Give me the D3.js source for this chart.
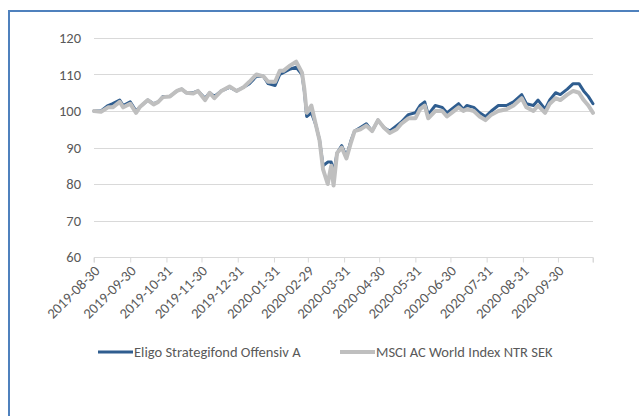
<!DOCTYPE html>
<html>
<head>
<meta charset="utf-8">
<script src="https://cdn.jsdelivr.net/npm/d3@7"></script>
<style>
  body { margin:0; background:#fff; }
  text { font-family: Carlito, Calibri, "Liberation Sans", sans-serif; }
</style>
</head>
<body>
<div class="svg-container"></div>
<script>
//chart data
const dates = ['2019-08-30','2019-09-05','2019-09-11','2019-09-15','2019-09-21','2019-09-24','2019-09-30',
  '2019-10-05','2019-10-08','2019-10-15','2019-10-20','2019-10-24','2019-10-28','2019-11-03','2019-11-09',
  '2019-11-13','2019-11-17','2019-11-23','2019-11-27','2019-12-03','2019-12-07','2019-12-11','2019-12-17',
  '2019-12-24','2019-12-30','2020-01-05','2020-01-10','2020-01-16','2020-01-22','2020-01-26','2020-02-01',
  '2020-02-05','2020-02-08','2020-02-14','2020-02-19','2020-02-24','2020-02-26','2020-02-28','2020-03-03',
  '2020-03-07','2020-03-10','2020-03-13','2020-03-17','2020-03-20','2020-03-22','2020-03-25','2020-03-29',
  '2020-04-02','2020-04-06','2020-04-09','2020-04-14','2020-04-19','2020-04-24','2020-04-29','2020-05-04',
  '2020-05-09','2020-05-15','2020-05-19','2020-05-25','2020-05-31','2020-06-04','2020-06-08','2020-06-11',
  '2020-06-17','2020-06-23','2020-06-27','2020-07-01','2020-07-07','2020-07-11','2020-07-14','2020-07-20',
  '2020-07-25','2020-07-30','2020-08-04','2020-08-10','2020-08-17','2020-08-23','2020-08-30','2020-09-03',
  '2020-09-09','2020-09-13','2020-09-19','2020-09-23','2020-09-28','2020-10-02','2020-10-08','2020-10-13',
  '2020-10-18','2020-10-22','2020-10-26','2020-10-30'];

const eligo = [100,100,101.5,102,103,101.5,102.5,
  100,101,103,102,102.5,104,104,105.5,
  106,105,105,105.5,103.5,105,104,105.5,
  106.5,105.5,106.5,107.5,109.5,109.5,107.5,107,
  110,110.5,111.5,112,110,105.5,98.5,99.5,
  96,92,85,86,86,83,88.5,90.5,
  87.5,92,94.5,95.5,96.5,94.5,97.5,95.5,
  94.5,96,97,99,99.5,101.5,102.5,99,
  101.5,101,99.5,100.5,102,100.5,101.5,101,
  99.5,98.5,100,101.5,101.5,102.5,104.5,102,
  101.5,103,100.5,103,105,104.5,106,107.5,
  107.5,105.5,104,102];

const msci = [100,99.8,101,101,102.5,101,102,
  99.5,101,103,101.8,102.5,103.8,104,105.5,
  106,105,104.8,105.5,103,105,103.5,105.5,
  106.7,105.5,106.5,108,110,109.5,108,108,
  111,111,112.5,113.5,110.5,106,99.5,101.5,
  96,92,84,80,85,79.6,88.5,90,
  87,91.5,94.5,95,96,94.5,97.5,95.5,
  94,95,96.5,98,98,100.5,101.5,98,
  100,100,98.5,99.5,101,100,100.5,100,
  98.5,97.5,99,100,100.5,101.5,103.5,101,
  100,101.5,99.5,102,103.5,103,104.5,105.5,
  105,103,101.5,99.5];

const seriesNames = ['Eligo Strategifond Offensiv A', 'MSCI AC World Index NTR SEK'];
const xTickLabels = ['2019-08-30','2019-09-30','2019-10-31','2019-11-30','2019-12-31','2020-01-31','2020-02-29',
  '2020-03-31','2020-04-30','2020-05-31','2020-06-30','2020-07-31','2020-08-31','2020-09-30'];
const xEnd = '2020-10-30';
const yTicks = [60,70,80,90,100,110,120];

//dimensions
const width = 639;
const height = 416;
const plot = { left:94, right:593, top:38, bottom:257 };
const colors = ['#2f5d8f', '#bfbfbf'];
const fontSize = '14.5px';

const parse = d3.timeParse('%Y-%m-%d');

const svg = d3.select('.svg-container')
  .append('svg')
  .attr('width', width)
  .attr('height', height);

//frame border (cut off at the right and bottom)
svg.append('path')
  .attr('d', `M9,${height+2} V11 H${width+2}`)
  .attr('fill', 'none')
  .attr('stroke', '#4f81bd')
  .attr('stroke-width', 2);

const xScale = d3.scaleTime()
  .domain([parse(dates[0]), parse(xEnd)])
  .range([plot.left, plot.right]);

const yScale = d3.scaleLinear()
  .domain([60, 120])
  .range([plot.bottom, plot.top]);

//gridlines
svg.append('g')
  .selectAll('line')
  .data(yTicks.slice(1))
  .join('line')
  .attr('x1', plot.left)
  .attr('x2', plot.right)
  .attr('y1', d => Math.round(yScale(d)) + 0.5)
  .attr('y2', d => Math.round(yScale(d)) + 0.5)
  .attr('stroke', '#d9d9d9')
  .attr('stroke-width', 1);

//y axis labels
const yAxis = d3.axisLeft(yScale)
  .tickValues(yTicks)
  .tickSize(0)
  .tickPadding(13);

svg.append('g')
  .attr('class', 'y-axis')
  .attr('transform', `translate(${plot.left},0)`)
  .call(yAxis)
  .call(g => g.select('.domain').remove())
  .call(g => g.selectAll('text')
    .attr('fill', '#595959')
    .style('font-size', fontSize));

//x axis
const tickDates = xTickLabels.concat([xEnd]).map(parse);
const xAxis = d3.axisBottom(xScale)
  .tickValues(tickDates)
  .tickSize(5)
  .tickFormat((d, i) => i < xTickLabels.length ? xTickLabels[i] : '');

svg.append('g')
  .attr('class', 'x-axis')
  .attr('transform', `translate(0,${Math.round(plot.bottom) + 0.5})`)
  .call(xAxis)
  .call(g => g.select('.domain').attr('stroke', '#d9d9d9').attr('d', `M${plot.left},5V0H${plot.right}V5`))
  .call(g => g.selectAll('.tick line').attr('stroke', '#d9d9d9'))
  .call(g => g.selectAll('text')
    .attr('fill', '#595959')
    .style('font-size', fontSize)
    .attr('text-anchor', 'end')
    .attr('dy', '0.35em')
    .attr('transform', 'translate(-3,5) rotate(-45)'));

//lines
const series = [eligo, msci];
const line = d3.line()
  .x((d, i) => xScale(parse(dates[i])))
  .y(d => yScale(d));

svg.selectAll('.series')
  .data(series)
  .join('path')
  .attr('class', 'series')
  .attr('d', d => line(d))
  .attr('fill', 'none')
  .attr('stroke', (d, i) => colors[i])
  .attr('stroke-width', (d, i) => i === 0 ? 3 : 4)
  .attr('stroke-linejoin', 'round')
  .attr('stroke-linecap', 'round');

//legend
const legendX = [98, 340];
const legendY = 352;
const legend = svg.selectAll('.legend')
  .data(seriesNames)
  .join('g')
  .attr('class', 'legend')
  .attr('transform', (d, i) => `translate(${legendX[i]},${legendY})`);

legend.append('line')
  .attr('x1', 0)
  .attr('x2', 35)
  .attr('stroke', (d, i) => colors[i])
  .attr('stroke-width', (d, i) => i === 0 ? 3 : 4);

legend.append('text')
  .attr('x', 36)
  .attr('dy', '0.35em')
  .attr('fill', '#595959')
  .style('font-size', fontSize)
  .text(d => d);
</script>
</body>
</html>
